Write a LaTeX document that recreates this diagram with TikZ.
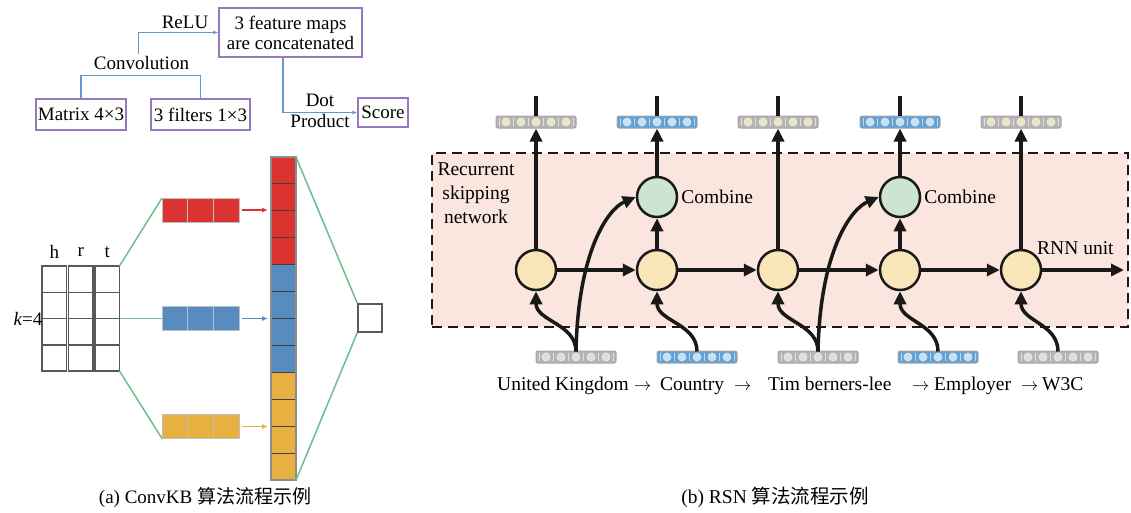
\documentclass[tikz,border=0pt]{standalone}
\usepackage{fontspec}
\setmainfont{Liberation Serif}
\newfontfamily\cjk{Noto Sans CJK SC}
\usetikzlibrary{arrows.meta}
\definecolor{boxpurple}{RGB}{150,120,190}
\definecolor{conblue}{RGB}{100,150,210}
\definecolor{gline}{RGB}{110,190,140}
\definecolor{redc}{RGB}{218,52,48}
\definecolor{bluec}{RGB}{88,140,190}
\definecolor{yellowc}{RGB}{232,176,64}
\definecolor{pinkbg}{RGB}{250,230,222}
\definecolor{rnnfill}{RGB}{248,230,185}
\definecolor{combfill}{RGB}{205,228,208}
\definecolor{vecgray}{RGB}{180,180,180}
\definecolor{vecblue}{RGB}{100,160,210}
\definecolor{topcirc}{RGB}{240,228,185}
\definecolor{botcirc}{RGB}{215,222,232}
\definecolor{bluecirc}{RGB}{200,225,240}
\definecolor{inkc}{RGB}{25,25,25}
\newcommand\vecnode[5]{%
  \node[vecbox, fill=#4] (#1) at (#2,#3) {};
  \foreach \j in {-37,-22.5,-7.5,7.5,22.5,37}
    \draw[white!60!#4, line width=0.8pt] ([xshift=\j pt, yshift=-4pt]#1.center) -- ([xshift=\j pt, yshift=4pt]#1.center);
  \foreach \k in {-30,-15,0,15,30}
    \filldraw[fill=#5, draw=white!75!#4, line width=0.7pt] ([xshift=\k pt]#1.center) circle[radius=4];
}
\begin{document}
\begin{tikzpicture}[x=1pt,y=-1pt,
  txt/.style={font=\fontsize{19}{22}\selectfont, inner sep=0pt},
  flowbox/.style={draw=boxpurple, line width=1.5pt, fill=white, inner sep=0pt, font=\fontsize{19}{22}\selectfont, align=center},
  bcon/.style={draw=conblue, line width=1.3pt},
  gridcell/.style={draw=black!65, line width=1.5pt, minimum width=24.5pt, minimum height=26.25pt, inner sep=0pt, outer sep=0pt},
  barcell/.style={draw=white!75!black, line width=0.6pt, minimum width=25.67pt, minimum height=24pt, inner sep=0pt, outer sep=0pt},
  colcell/.style={draw=black!75, line width=1pt, minimum width=25pt, minimum height=26.92pt, inner sep=0pt, outer sep=0pt},
  glink/.style={draw=gline, line width=1.5pt},
  barrow/.style={line width=1.5pt, -{Latex[length=6pt,width=5pt]}},
  rsnbox/.style={draw=inkc, fill=pinkbg, line width=2.5pt, dash pattern=on 10pt off 6pt, inner sep=0pt},
  rnncirc/.style={circle, draw=inkc, line width=2.5pt, fill=rnnfill, minimum size=40pt, inner sep=0pt},
  combcirc/.style={circle, draw=inkc, line width=2.5pt, fill=combfill, minimum size=40pt, inner sep=0pt},
  vecbox/.style={draw=black!35, rounded corners=2pt, line width=1pt, minimum width=80pt, minimum height=12pt, inner sep=0pt},
  thk/.style={draw=inkc, line width=3.5pt},
  arr/.style={draw=inkc, line width=3.5pt, -{Triangle[length=13pt,width=12pt]}},
  rsntxt/.style={font=\fontsize{19.5}{24}\selectfont, inner sep=0pt, align=center},
  smarr/.style={font=\fontsize{17}{19}\selectfont, inner sep=0pt},
]
\useasboundingbox (0,0) rectangle (1131,512);

% ---------------- (a) top flow ----------------
\node[flowbox, minimum width=143pt, minimum height=49pt] (fm) at (290.5,32.5) {3 feature maps\\[-2pt]are concatenated};
\node[flowbox, minimum width=90pt, minimum height=31pt] (mat) at (81,114.5) {Matrix 4×3};
\node[flowbox, minimum width=99pt, minimum height=31pt] (fil) at (200.5,114.5) {3 filters 1×3};
\node[flowbox, minimum width=50pt, minimum height=29pt] (score) at (383,112.5) {Score};
\node[txt] (conv) at (141.5,63) {Convolution};
\node[txt] (relu) at (185,22) {ReLU};
\node[txt, align=center, font=\fontsize{19}{21}\selectfont] (dot) at (320,110.5) {Dot\\Product};

\draw[bcon] (mat.north) -- ++(0,-23) -| (fil.north);
\draw[bcon, -{Latex[length=5pt,width=4pt]}] ([xshift=-3pt]conv.north) ++(0,-2) |- (fm.west);
\draw[bcon, -{Latex[length=5pt,width=4pt]}] ([xshift=-7.5pt]fm.south) |- (score.west);

% ---------------- (a) ConvKB ----------------
\foreach \c/\x in {1/54.25,2/80.75,3/107.25}
  \foreach \r in {1,...,4}
    \node[gridcell] (g\c\r) at (\x,{266+26.25*(\r-0.5)}) {};
\node[txt] (lh) at (54.25,252) {h};
\node[txt] (lr) at (80.75,252) {r};
\node[txt] (lt) at (107.25,252) {t};
\node[txt, anchor=east] (lk) at (42.5,318.5) {\itshape k\upshape=4};

\foreach \n/\cc/\y in {r/redc/210,b/bluec/318.5,y/yellowc/426.5}
  \foreach \i in {1,2,3}
    \node[barcell, fill=\cc] (\n\i) at ({162+25.67*(\i-0.5)},\y) {};

\foreach \i in {1,...,12}{
  \ifnum\i<5 \def\cc{redc}\else\ifnum\i<9 \def\cc{bluec}\else\def\cc{yellowc}\fi\fi
  \node[colcell, fill=\cc] (c\i) at (283.5,{157+26.92*(\i-0.5)}) {};
}
\draw[black!45, line width=1.5pt] (c1.north west) rectangle (c12.south east);

\draw[barrow, redc] ([xshift=3pt]r3.east) -- ([xshift=29pt]r3.east);
\draw[barrow, bluec] ([xshift=3pt]b3.east) -- ([xshift=29pt]b3.east);
\draw[barrow, yellowc] ([xshift=3pt]y3.east) -- ([xshift=29pt]y3.east);

\node[draw=black!65, line width=1.5pt, minimum width=24pt, minimum height=28pt, inner sep=0pt] (out) at (370,318) {};

\draw[glink] (g31.north east) -- (r1.north west);
\draw[glink] (g32.south east) -- (b1.west);
\draw[glink] (g34.south east) -- (y1.south west);
\draw[glink] (c1.north east) -- (out.north west);
\draw[glink] (c12.south east) -- (out.south west);

\node[txt] (capa) at (205,497) {(a) ConvKB {\cjk 算法流程示例}};

% ---------------- (b) RSN ----------------
\node[rsnbox, minimum width=696pt, minimum height=174pt] (box) at (780,240) {};
\node[rsntxt] (rsnlab) at (476,193) {Recurrent\\skipping\\network};

\foreach \i/\x in {1/536,2/657,3/778,4/900,5/1021}{
  \node[rnncirc] (rnn\i) at (\x,270) {};
  \coordinate (t\i) at (\x,96);
}
\node[combcirc] (comb1) at (657,197) {};
\node[combcirc] (comb2) at (900,197) {};
\node[rsntxt, anchor=west] (cl1) at ([xshift=3pt]comb1.east) {Combine};
\node[rsntxt, anchor=west] (cl2) at ([xshift=3pt]comb2.east) {Combine};
\node[rsntxt, anchor=west] (rnnlab) at (1037,248) {RNN unit};
\coordinate (rend) at (1124,270);

\vecnode{tv1}{536}{122}{vecgray}{topcirc}
\vecnode{tv2}{657}{122}{vecblue}{bluecirc}
\vecnode{tv3}{778}{122}{vecgray}{topcirc}
\vecnode{tv4}{900}{122}{vecblue}{bluecirc}
\vecnode{tv5}{1021}{122}{vecgray}{topcirc}
\vecnode{bv1}{576}{357}{vecgray}{botcirc}
\vecnode{bv2}{697}{357}{vecblue}{bluecirc}
\vecnode{bv3}{818}{357}{vecgray}{botcirc}
\vecnode{bv4}{938}{357}{vecblue}{bluecirc}
\vecnode{bv5}{1058}{357}{vecgray}{botcirc}

\foreach \i in {1,...,5} \draw[thk] (t\i) -- (tv\i.north);

\draw[arr] (rnn1.north) -- (tv1.south);
\draw[arr] (comb1.north) -- (tv2.south);
\draw[arr] (rnn3.north) -- (tv3.south);
\draw[arr] (comb2.north) -- (tv4.south);
\draw[arr] (rnn5.north) -- (tv5.south);
\draw[arr] (rnn2.north) -- (comb1.south);
\draw[arr] (rnn4.north) -- (comb2.south);

\draw[arr] (rnn1.east) -- (rnn2.west);
\draw[arr] (rnn2.east) -- (rnn3.west);
\draw[arr] (rnn3.east) -- (rnn4.west);
\draw[arr] (rnn4.east) -- (rnn5.west);
\draw[arr] (rnn5.east) -- (rend);

\foreach \i in {1,...,5}
  \draw[arr] ([yshift=-1pt]bv\i.north) .. controls +(0,-28) and +(0,30) .. (rnn\i.south);
\draw[arr] ([yshift=-1pt]bv1.north) .. controls +(2,-100) and +(-28,12) .. (comb1.west);
\draw[arr] ([yshift=-1pt]bv3.north) .. controls +(2,-100) and +(-28,12) .. (comb2.west);

\node[rsntxt, anchor=base west] (w1) at (497,390) {United Kingdom};
\node[smarr, anchor=base west] (a1) at (634,390) {$\rightarrow$};
\node[rsntxt, anchor=base west] (w2) at (660,390) {Country};
\node[smarr, anchor=base west] (a2) at (734,390) {$\rightarrow$};
\node[rsntxt, anchor=base west] (w3) at (768,390) {Tim berners-lee};
\node[smarr, anchor=base west] (a3) at (912,390) {$\rightarrow$};
\node[rsntxt, anchor=base west] (w4) at (934,390) {Employer};
\node[smarr, anchor=base west] (a4) at (1021,390) {$\rightarrow$};
\node[rsntxt, anchor=base west] (w5) at (1042,390) {W3C};

\node[rsntxt] (capb) at (775,497) {(b) RSN {\cjk 算法流程示例}};
\end{tikzpicture}
\end{document}
